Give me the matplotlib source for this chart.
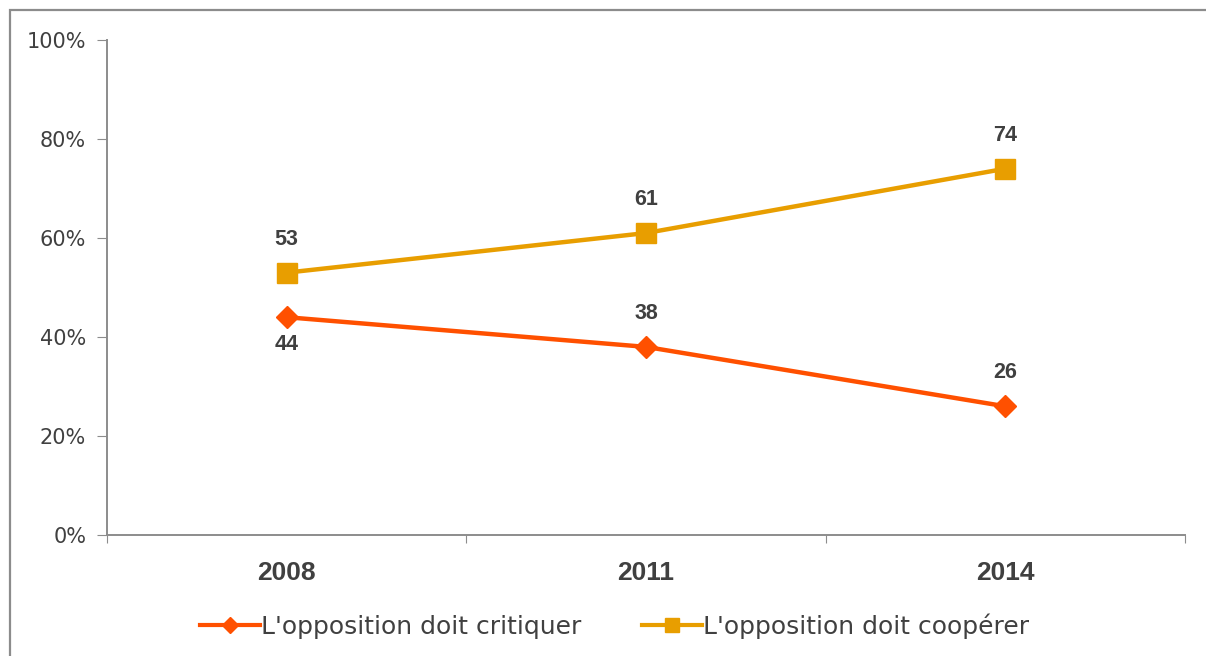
import numpy as np
import matplotlib.pyplot as plt
from matplotlib.patches import Rectangle
from matplotlib.lines import Line2D

years = ["2008", "2011", "2014"]
critiquer = [44, 38, 26]
cooperer = [53, 61, 74]
# label above (+1) or below (-1) each point
critiquer_pos = [-1, 1, 1]
cooperer_pos = [1, 1, 1]

c_crit = "#FF5000"
c_coop = "#E89E00"
txt = "#404040"
grey = "#8C8C8C"

fig = plt.figure(figsize=(12.06, 6.56), dpi=100)
fig.patches.append(Rectangle((10 / 1206, -0.1), 1.2, 1 - 10 / 656 + 0.1,
                             transform=fig.transFigure, fill=False,
                             ec=grey, lw=1.6))

ax = fig.add_axes([107 / 1206, 121 / 656, 1078 / 1206, 495 / 656])
x = np.arange(len(years)) + 0.5

ax.plot(x, critiquer, color=c_crit, lw=3.2, marker="D", ms=11)
ax.plot(x, cooperer, color=c_coop, lw=3.2, marker="s", ms=14)

for vals, pos in [(critiquer, critiquer_pos), (cooperer, cooperer_pos)]:
    for xi, v, p in zip(x, vals, pos):
        off = 24 if p > 0 else -20
        ax.annotate(str(v), (xi, v), xytext=(0, off), textcoords="offset points",
                    ha="center", va="center", fontsize=15.5, fontweight="bold",
                    color=txt, family="Liberation Sans")

ax.set_xlim(0, 3)
ax.set_ylim(0, 100)
ax.set_yticks(range(0, 101, 20))
ax.set_yticklabels([f"{v}%" for v in range(0, 101, 20)], fontsize=15,
                   color=txt, family="DejaVu Sans")
ax.set_xticks([0, 1, 2, 3])
ax.set_xticklabels([])
ax.set_xticks(x, minor=True)
ax.set_xticklabels(years, minor=True, fontsize=19, fontweight="bold",
                   color=txt, family="Liberation Sans")
ax.tick_params(axis="x", which="minor", length=0, pad=19)
ax.tick_params(axis="x", which="major", length=6, color=grey, direction="out")
ax.tick_params(axis="y", length=7, color=grey, pad=8)

for s in ["top", "right"]:
    ax.spines[s].set_visible(False)
for s in ["left", "bottom"]:
    ax.spines[s].set_color(grey)
    ax.spines[s].set_linewidth(1.4)

handles = [
    Line2D([], [], color=c_crit, lw=3, marker="D", ms=8),
    Line2D([], [], color=c_coop, lw=3, marker="s", ms=10),
]
labels = ["L'opposition doit critiquer", "L'opposition doit coopérer"]
leg = ax.legend(handles, labels, loc="upper center", bbox_to_anchor=(0.471, -0.113),
                ncol=2, frameon=False, handlelength=2.4, columnspacing=2.4,
                handletextpad=0.05, prop={"family": "DejaVu Sans", "size": 18})
for t in leg.get_texts():
    t.set_color(txt)

fig.savefig("out.png", dpi=100)
